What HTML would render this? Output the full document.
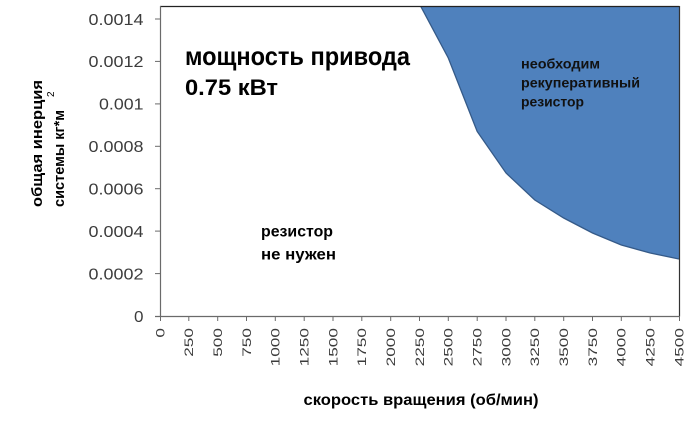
<!DOCTYPE html>
<html>
<head>
<meta charset="utf-8">
<style>
html,body{margin:0;padding:0;background:#fff;}
svg{display:block;}
text{font-family:"Liberation Sans","Noto Sans CJK SC",sans-serif;}
</style>
</head>
<body>
<svg width="694" height="429" viewBox="0 0 694 429" xmlns="http://www.w3.org/2000/svg">
  <rect x="0" y="0" width="694" height="429" fill="#fff"/>
  <defs>
    <clipPath id="pc"><rect x="160" y="6" width="519" height="310"/></clipPath>
  </defs>
  <!-- blue region -->
  <g clip-path="url(#pc)">
    <polygon points="419.5,4 448.3,58 477.2,131.5 506,173 534.8,200 563.7,218 592.5,233 621.3,245 650.2,253 679,259 679,0 410,0" fill="#4f81bd"/>
    <polyline points="419.5,4 448.3,58 477.2,131.5 506,173 534.8,200 563.7,218 592.5,233 621.3,245 650.2,253 679,259" fill="none" stroke="#355a88" stroke-width="1.3"/>
  </g>
  <!-- plot border -->
  <line x1="160" y1="6.5" x2="679.5" y2="6.5" stroke="#222" stroke-width="1.3"/>
  <line x1="679.5" y1="6" x2="679.5" y2="316.5" stroke="#333" stroke-width="1.2"/>
  <line x1="160.5" y1="6" x2="160.5" y2="316.5" stroke="#6a6a6a" stroke-width="1.2"/>
  <line x1="155" y1="316.5" x2="680" y2="316.5" stroke="#6a6a6a" stroke-width="1.2"/>

  <!-- y ticks -->
  <g stroke="#6a6a6a" stroke-width="1">
    <line x1="155" y1="19" x2="160" y2="19"/>
    <line x1="155" y1="61.4" x2="160" y2="61.4"/>
    <line x1="155" y1="103.9" x2="160" y2="103.9"/>
    <line x1="155" y1="146.3" x2="160" y2="146.3"/>
    <line x1="155" y1="188.7" x2="160" y2="188.7"/>
    <line x1="155" y1="231.1" x2="160" y2="231.1"/>
    <line x1="155" y1="273.6" x2="160" y2="273.6"/>
  </g>
  <g font-size="16" fill="#3c3c3c" text-anchor="end">
    <text x="143.5" y="24.8" textLength="55" lengthAdjust="spacingAndGlyphs">0.0014</text>
    <text x="143.5" y="67.2" textLength="55" lengthAdjust="spacingAndGlyphs">0.0012</text>
    <text x="143.5" y="109.7" textLength="44.5" lengthAdjust="spacingAndGlyphs">0.001</text>
    <text x="143.5" y="152.1" textLength="55" lengthAdjust="spacingAndGlyphs">0.0008</text>
    <text x="143.5" y="194.5" textLength="55" lengthAdjust="spacingAndGlyphs">0.0006</text>
    <text x="143.5" y="236.9" textLength="55" lengthAdjust="spacingAndGlyphs">0.0004</text>
    <text x="143.5" y="279.4" textLength="55" lengthAdjust="spacingAndGlyphs">0.0002</text>
    <text x="143.5" y="321.8" textLength="9.5" lengthAdjust="spacingAndGlyphs">0</text>
  </g>

  <!-- x ticks -->
  <g stroke="#6a6a6a" stroke-width="1">
    <line x1="160.5" y1="316" x2="160.5" y2="321"/>
    <line x1="188.8" y1="316" x2="188.8" y2="321"/>
    <line x1="217.7" y1="316" x2="217.7" y2="321"/>
    <line x1="246.5" y1="316" x2="246.5" y2="321"/>
    <line x1="275.3" y1="316" x2="275.3" y2="321"/>
    <line x1="304.2" y1="316" x2="304.2" y2="321"/>
    <line x1="333" y1="316" x2="333" y2="321"/>
    <line x1="361.8" y1="316" x2="361.8" y2="321"/>
    <line x1="390.7" y1="316" x2="390.7" y2="321"/>
    <line x1="419.5" y1="316" x2="419.5" y2="321"/>
    <line x1="448.3" y1="316" x2="448.3" y2="321"/>
    <line x1="477.2" y1="316" x2="477.2" y2="321"/>
    <line x1="506" y1="316" x2="506" y2="321"/>
    <line x1="534.8" y1="316" x2="534.8" y2="321"/>
    <line x1="563.7" y1="316" x2="563.7" y2="321"/>
    <line x1="592.5" y1="316" x2="592.5" y2="321"/>
    <line x1="621.3" y1="316" x2="621.3" y2="321"/>
    <line x1="650.2" y1="316" x2="650.2" y2="321"/>
    <line x1="679.5" y1="316" x2="679.5" y2="321"/>
  </g>
  <g font-size="12.2" fill="#3c3c3c" text-anchor="end">
    <text transform="translate(164.6,328) rotate(-90)" textLength="9.6" lengthAdjust="spacingAndGlyphs">0</text>
    <text transform="translate(193.2,328) rotate(-90)" textLength="28.8" lengthAdjust="spacingAndGlyphs">250</text>
    <text transform="translate(222.1,328) rotate(-90)" textLength="28.8" lengthAdjust="spacingAndGlyphs">500</text>
    <text transform="translate(250.9,328) rotate(-90)" textLength="28.8" lengthAdjust="spacingAndGlyphs">750</text>
    <text transform="translate(279.7,328) rotate(-90)" textLength="38.4" lengthAdjust="spacingAndGlyphs">1000</text>
    <text transform="translate(308.6,328) rotate(-90)" textLength="38.4" lengthAdjust="spacingAndGlyphs">1250</text>
    <text transform="translate(337.4,328) rotate(-90)" textLength="38.4" lengthAdjust="spacingAndGlyphs">1500</text>
    <text transform="translate(366.2,328) rotate(-90)" textLength="38.4" lengthAdjust="spacingAndGlyphs">1750</text>
    <text transform="translate(395.1,328) rotate(-90)" textLength="38.4" lengthAdjust="spacingAndGlyphs">2000</text>
    <text transform="translate(423.9,328) rotate(-90)" textLength="38.4" lengthAdjust="spacingAndGlyphs">2250</text>
    <text transform="translate(452.7,328) rotate(-90)" textLength="38.4" lengthAdjust="spacingAndGlyphs">2500</text>
    <text transform="translate(481.6,328) rotate(-90)" textLength="38.4" lengthAdjust="spacingAndGlyphs">2750</text>
    <text transform="translate(510.4,328) rotate(-90)" textLength="38.4" lengthAdjust="spacingAndGlyphs">3000</text>
    <text transform="translate(539.2,328) rotate(-90)" textLength="38.4" lengthAdjust="spacingAndGlyphs">3250</text>
    <text transform="translate(568.1,328) rotate(-90)" textLength="38.4" lengthAdjust="spacingAndGlyphs">3500</text>
    <text transform="translate(596.9,328) rotate(-90)" textLength="38.4" lengthAdjust="spacingAndGlyphs">3750</text>
    <text transform="translate(625.7,328) rotate(-90)" textLength="38.4" lengthAdjust="spacingAndGlyphs">4000</text>
    <text transform="translate(654.6,328) rotate(-90)" textLength="38.4" lengthAdjust="spacingAndGlyphs">4250</text>
    <text transform="translate(683.4,328) rotate(-90)" textLength="38.4" lengthAdjust="spacingAndGlyphs">4500</text>
  </g>

  <!-- axis titles -->
  <text x="303.5" y="405" font-size="16" font-weight="bold" fill="#000" textLength="235" lengthAdjust="spacingAndGlyphs">скорость вращения (об/мин)</text>
  <g font-size="15" font-weight="bold" fill="#000">
    <text transform="translate(42,207) rotate(-90)" textLength="127" lengthAdjust="spacingAndGlyphs">общая инерция</text>
    <text transform="translate(64,207) rotate(-90)" textLength="97" lengthAdjust="spacingAndGlyphs">системы кг*м</text>
    <text transform="translate(54,97) rotate(-90)" font-size="10" font-weight="normal">2</text>
  </g>

  <!-- annotations -->
  <g font-weight="bold" fill="#000">
    <text x="185" y="65" font-size="26" textLength="225" lengthAdjust="spacingAndGlyphs">мощность привода</text>
    <text x="185" y="95" font-size="22" textLength="93" lengthAdjust="spacingAndGlyphs">0.75 кВт</text>
    <text x="261" y="236.7" font-size="15.5" textLength="72" lengthAdjust="spacingAndGlyphs">резистор</text>
    <text x="261" y="259.3" font-size="15.5" textLength="75" lengthAdjust="spacingAndGlyphs">не нужен</text>
  </g>
  <g font-weight="bold" fill="#111" font-size="14">
    <text x="521" y="68.3" textLength="79" lengthAdjust="spacingAndGlyphs">необходим</text>
    <text x="521" y="87.3" textLength="119" lengthAdjust="spacingAndGlyphs">рекуперативный</text>
    <text x="521" y="106.7" textLength="63" lengthAdjust="spacingAndGlyphs">резистор</text>
  </g>
</svg>
</body>
</html>
